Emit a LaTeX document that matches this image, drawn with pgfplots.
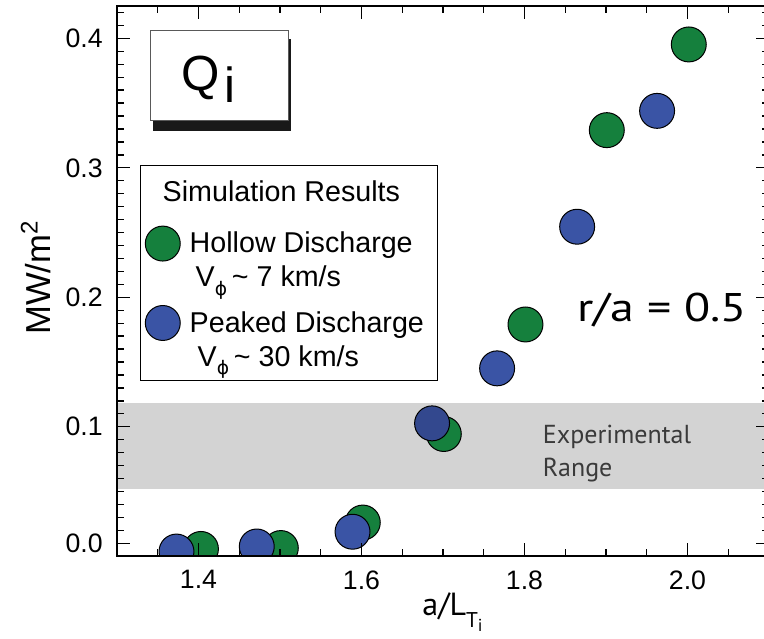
\documentclass[border=0pt]{standalone}
\usepackage{fontspec}
\setmainfont{Liberation Sans}
\newfontfamily\myriad{PT Sans}
\newfontfamily\dejavu{DejaVu Sans}
\usepackage{graphicx}
\usepackage{pgfplots}
\pgfplotsset{compat=1.18}
\usetikzlibrary{calc}
\definecolor{hollow}{HTML}{15803D}
\definecolor{peaked}{HTML}{3A54A5}
\definecolor{peakeddark}{HTML}{33488E}
\definecolor{band}{HTML}{D3D3D3}
\definecolor{exptext}{HTML}{3A3A3A}
\newcommand{\vphi}{V\raisebox{-6.5pt}{\dejavu\fontsize{14}{14}\selectfont ϕ}\,\textasciitilde}

\begin{document}
\begin{tikzpicture}
\begin{axis}[
  at={(0,0)}, anchor=south west,
  scale only axis,
  width=489pt, height=412.65pt,
  xmin=1.3, xmax=2.1, ymin=0, ymax=0.425,
  axis on top,
  clip marker paths=true,
  axis line style={line width=1.3pt},
  tick align=inside,
  major tick length=9.75pt, minor tick length=5.25pt,
  tick style={line width=1pt, black},
  xtick={1.4,1.6,1.8,2.0}, xticklabels={1.4,1.6,1.8,2.0},
  minor xtick={1.3,1.35,...,2.1},
  ytick={0.01,0.1,0.2,0.3,0.4}, yticklabels={0.0,0.1,0.2,0.3,0.4},
  minor ytick={0.02,0.03,...,0.42},
  xticklabel style={font=\fontsize{20}{24}\selectfont, inner sep=0pt, anchor=north, yshift=-10.5pt},
  yticklabel style={font=\fontsize{20}{24}\selectfont, inner sep=0pt, anchor=east, xshift=-10.5pt},
  xlabel={a/L\raisebox{-9.5pt}{\fontsize{16}{16}\selectfont T\raisebox{-3pt}{\fontsize{13}{13}\selectfont i}}},
  xlabel style={at={(axis description cs:0.5146,-0.1072)}, anchor=base, inner sep=0pt,
    font=\myriad\fontsize{24}{28}\selectfont},
  ylabel={MW/m\raisebox{9.5pt}{\fontsize{18}{18}\selectfont 2}},
  ylabel style={at={(axis description cs:-0.1022,0.5056)}, anchor=base, inner sep=0pt,
    font=\fontsize{26}{30}\selectfont},
  legend style={at={(axis cs:1.3282,0.3021)}, anchor=north west, draw=black, line width=0.8pt,
    fill=white, inner xsep=3.6pt, inner ysep=1.2pt, row sep=4.45pt, column sep=7.1pt,
    cells={anchor=base west}, nodes={inner sep=0pt, text depth=},
    font=\fontsize{21.5}{25.5}\selectfont},
  legend image code/.code={\path[draw=none, fill=none] (0pt,-6pt) rectangle (26.2pt,20.2pt);
    \draw[#1] plot coordinates {(13.1pt,7pt)};},
]
% experimental range band
\addplot[forget plot, draw=none, fill=band] coordinates
  {(1.3,0.0517) (2.1,0.0517) (2.1,0.1186) (1.3,0.1186)} -- cycle;

\addlegendimage{empty legend}
\addlegendentry{\rule[-14.15pt]{0pt}{39.6pt}\hspace*{-20.25pt}Simulation Results}

% hollow discharge
\addplot[only marks, mark=*, mark size=13.1pt, draw=black, fill=hollow, line width=0.75pt]
  coordinates {(1.403,0.0056) (1.501,0.0063) (1.6016,0.026) (1.701,0.0944)
               (1.8012,0.179) (1.901,0.3291) (2.0016,0.3953)};
\addlegendentry{\begin{tabular}[t]{@{}l@{}}\makebox[182pt][l]{Hollow Discharge}\\
  \hspace*{4.5pt}\vphi\ 7 km/s\end{tabular}}

% peaked discharge
\addplot[only marks, mark=*, mark size=13.1pt, draw=black, fill=peaked, line width=0.75pt]
  coordinates {(1.373,0.0036) (1.4715,0.0075) (1.589,0.0189) (1.7664,0.1451)
               (1.8646,0.2545) (1.9627,0.344)};
\addlegendentry{\begin{tabular}[t]{@{}l@{}}\makebox[182pt][l]{Peaked Discharge}\\
  \hspace*{6pt}\vphi\ 30 km/s\end{tabular}}
\addplot[forget plot, only marks, mark=*, mark size=13.1pt, draw=black, fill=peakeddark, line width=0.75pt]
  coordinates {(1.6866,0.1026)};

% Q_i box
\fill[black!90] (axis cs:1.3442,0.3286) rectangle (axis cs:1.5135,0.3994);
\filldraw[fill=white, draw=black!65, line width=0.75pt] (axis cs:1.3405,0.3363) rectangle (axis cs:1.5102,0.4063);
\node[anchor=base west, inner sep=0pt, font=\fontsize{37}{40}\selectfont] at (axis cs:1.379,0.360) {Q\kern3pt\raisebox{-9pt}{i}};

\node[anchor=base west, inner sep=0pt, font=\myriad\fontsize{30}{36}\selectfont] at (axis cs:1.8644,0.1811) {\scalebox{1.2}[1]{r/a = 0.5}};
\node[anchor=base west, inner sep=0pt, text=exptext, font=\myriad\fontsize{19.5}{24}\selectfont] at (axis cs:1.8223,0.0872) {Experimental};
\node[anchor=base west, inner sep=0pt, text=exptext, font=\myriad\fontsize{19.5}{24}\selectfont] at (axis cs:1.8223,0.0614) {Range};
\end{axis}
\pgfresetboundingbox
\useasboundingbox ($(current axis.south west)+(-87.75pt,-61.5pt)$) rectangle ($(current axis.south west)+(485.25pt,417.15pt)$);
\end{tikzpicture}
\end{document}
